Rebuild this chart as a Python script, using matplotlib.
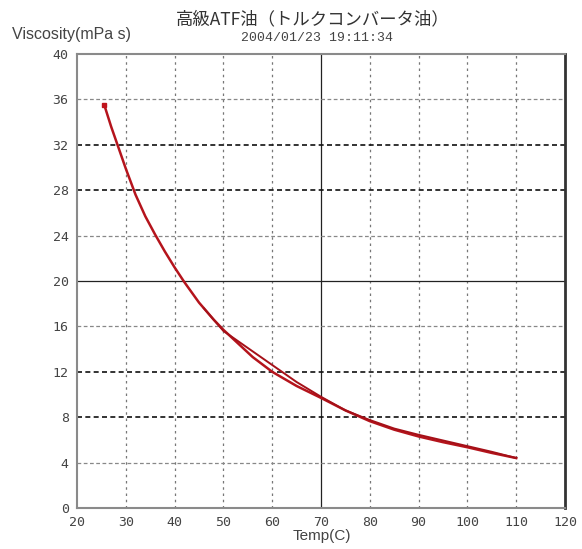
import matplotlib
matplotlib.use("Agg")
import matplotlib.pyplot as plt
import numpy as np

# ---- datos (calentamiento y enfriamiento)
temp_up = [25.6, 27, 28.3, 30, 32, 34, 36, 38, 40, 42, 45, 48, 50, 53, 56, 60, 65, 70, 75, 80, 85, 90, 95, 100, 105, 110]
visc_up = [35.5, 33.6, 32.0, 29.9, 27.6, 25.7, 24.1, 22.6, 21.2, 19.9, 18.1, 16.6, 15.7, 14.5, 13.3, 12.0, 10.75, 9.7, 8.6, 7.65, 6.9, 6.3, 5.8, 5.35, 4.85, 4.4]
temp_down = [110, 105, 100, 95, 90, 85, 80, 75, 70, 65, 60, 55, 50, 46]
visc_down = [4.4, 4.95, 5.45, 5.95, 6.45, 7.0, 7.75, 8.6, 9.8, 11.1, 12.6, 14.1, 15.6, 17.6]

x_ticks = [20, 30, 40, 50, 60, 70, 80, 90, 100, 110, 120]
y_ticks = [0, 4, 8, 12, 16, 20, 24, 28, 32, 36, 40]
dark_rows = [32, 28, 12, 8]

titulo = "高級ATF油（トルクコンバータ油）"
fecha = "2004/01/23 19:11:34"

fig = plt.figure(figsize=(5.82, 5.49), dpi=100)
ax = fig.add_axes([0.1323, 0.0747, 0.8385, 0.8269])

# rejilla
for xv in x_ticks[1:-1]:
    if xv == 70:
        ax.axvline(xv, color="#222222", lw=0.9, zorder=1)
    else:
        ax.axvline(xv, color="#777777", lw=0.9, ls=(0, (2, 3)), zorder=1)
for yv in y_ticks[1:-1]:
    if yv == 20:
        ax.axhline(yv, color="#222222", lw=0.9, zorder=1)
    elif yv in dark_rows:
        ax.axhline(yv, color="#111111", lw=1.2, ls=(0, (3, 2)), zorder=1)
    else:
        ax.axhline(yv, color="#888888", lw=0.9, ls=(0, (3, 2)), zorder=1)

ax.plot(temp_up, visc_up, color="#b5141c", lw=1.8, zorder=3)
ax.plot(temp_down, visc_down, color="#a51018", lw=1.4, zorder=3)
ax.plot(temp_up[0], visc_up[0], marker="s", ms=3.5, color="#c0141c", zorder=4)

ax.set_xlim(20, 120)
ax.set_ylim(0, 40)
ax.set_xticks(x_ticks)
ax.set_yticks(y_ticks)
ax.tick_params(length=0, labelsize=9.5, labelcolor="#444444", pad=6)
for lab in ax.get_xticklabels() + ax.get_yticklabels():
    lab.set_family("DejaVu Sans Mono")

for s in ["left", "bottom", "top"]:
    ax.spines[s].set_color("#8a8a8a")
    ax.spines[s].set_linewidth(1.5)
ax.spines["right"].set_color("#333333")
ax.spines["right"].set_linewidth(2)

fig.text(313 / 582, 1 - 19 / 549, titulo, ha="center", va="center",
         fontsize=12.5, color="#333333", family=["Noto Sans CJK JP", "DejaVu Sans"])
fig.text(317 / 582, 1 - 38 / 549, fecha, ha="center", va="center",
         fontsize=9.5, color="#444444", family="Liberation Mono")
fig.text(12 / 582, 1 - 34 / 549, "Viscosity(mPa s)", ha="left", va="center",
         fontsize=11.5, color="#444444", family="Liberation Sans")
fig.text(322 / 582, 1 - 536 / 549, "Temp(C)", ha="center", va="center",
         fontsize=11, color="#444444", family="Liberation Sans")

plt.savefig("out.png", dpi=100)
